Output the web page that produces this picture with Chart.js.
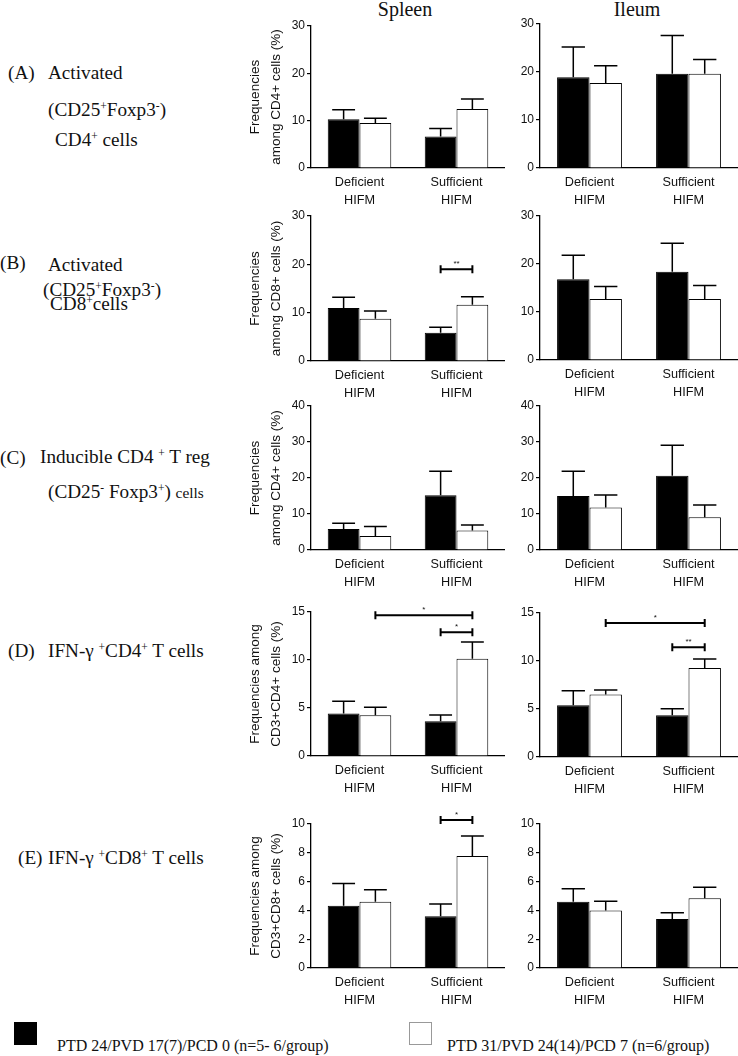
<!DOCTYPE html>
<html>
<head>
<meta charset="utf-8">
<script src="https://cdn.jsdelivr.net/npm/chart.js@4.4.1/dist/chart.umd.min.js"></script>
<style>
    body { margin: 0; background: #fff; width: 738px; height: 1056px; position: relative; overflow: hidden; font-family: 'Liberation Serif', 'Times New Roman', serif; color: #111; }
    .lbl { position: absolute; font-size: 19.2px; white-space: nowrap; line-height: 1; }
    .lbl sup { font-size: 0.6em; position: relative; top: -0.55em; vertical-align: baseline; line-height: 0; }
    .col-title { position: absolute; font-size: 20px; line-height: 1; transform: translateX(-50%); }
    .legend-box { position: absolute; width: 23px; height: 23px; box-sizing: border-box; }
    .legend-text { position: absolute; font-size: 16px; line-height: 1; white-space: nowrap; }
    canvas { position: absolute; }
</style>
</head>
<body>

<div class="col-title" style="left:405px;top:-1px">Spleen</div>
<div class="col-title" style="left:637px;top:-1px">Ileum</div>

<!-- row labels -->
<div class="lbl" style="left:8px;top:63px">(A)</div>
<div class="lbl" style="left:48px;top:63px">Activated</div>
<div class="lbl" style="left:48px;top:100px">(CD25<sup>+</sup>Foxp3<sup>-</sup>)</div>
<div class="lbl" style="left:55px;top:130px">CD4<sup>+</sup> cells</div>

<div class="lbl" style="left:0px;top:253px">(B)</div>
<div class="lbl" style="left:48px;top:255px">Activated</div>
<div class="lbl" style="left:43px;top:280px">(CD25<sup>+</sup>Foxp3<sup>-</sup>)</div>
<div class="lbl" style="left:50px;top:294px">CD8<sup>+</sup>cells</div>

<div class="lbl" style="left:0px;top:448px">(C)</div>
<div class="lbl" style="left:40px;top:447px">Inducible CD4 <sup>+</sup> T reg</div>
<div class="lbl" style="left:48px;top:482px">(CD25<sup>-</sup> Foxp3<sup>+</sup>) <span style="font-size:0.8em">cells</span></div>

<div class="lbl" style="left:8px;top:641px">(D)</div>
<div class="lbl" style="left:48px;top:641px">IFN-γ <sup>+</sup>CD4<sup>+</sup> T cells</div>

<div class="lbl" style="left:18px;top:848px">(E)</div>
<div class="lbl" style="left:48px;top:848px">IFN-γ <sup>+</sup>CD8<sup>+</sup> T cells</div>

<!-- legend -->
<div class="legend-box" style="left:14px;top:1022px;background:#000"></div>
<div class="legend-text" style="left:57px;top:1038px" id="leg0"></div>
<div class="legend-box" style="left:409px;top:1022px;background:#fff;border:1px solid #999"></div>
<div class="legend-text" style="left:447px;top:1038px" id="leg1"></div>

<script>
Chart.defaults.font.family = "'Liberation Sans', Arial, sans-serif";
Chart.defaults.color = '#111';

const categories = [['Deficient', 'HIFM'], ['Sufficient', 'HIFM']];
const seriesNames = ['PTD 24/PVD 17(7)/PCD 0 (n=5- 6/group)', 'PTD 31/PVD 24(14)/PCD 7 (n=6/group)'];

// (A) activated CD4+
const spleenA_ptd24 = [10.3, 6.65];
const spleenA_ptd24_err = [2.0, 1.7];
const spleenA_ptd31 = [9.5, 12.45];
const spleenA_ptd31_err = [1.0, 2.15];
const ileumA_ptd24 = [18.9, 19.65];
const ileumA_ptd24_err = [6.3, 7.95];
const ileumA_ptd31 = [17.7, 19.65];
const ileumA_ptd31_err = [3.6, 2.95];

// (B) activated CD8+
const spleenB_ptd24 = [10.97, 5.86];
const spleenB_ptd24_err = [2.23, 1.11];
const spleenB_ptd31 = [8.76, 11.66];
const spleenB_ptd31_err = [1.58, 1.64];
const ileumB_ptd24 = [16.8, 18.4];
const ileumB_ptd24_err = [5.0, 5.9];
const ileumB_ptd31 = [12.7, 12.7];
const ileumB_ptd31_err = [2.6, 2.8];

// (C) inducible Treg
const spleenC_ptd24 = [5.8, 15.2];
const spleenC_ptd24_err = [1.6, 6.65];
const spleenC_ptd31 = [3.9, 5.4];
const spleenC_ptd31_err = [2.6, 1.55];
const ileumC_ptd24 = [15.0, 20.6];
const ileumC_ptd24_err = [6.9, 8.5];
const ileumC_ptd31 = [11.8, 9.1];
const ileumC_ptd31_err = [3.5, 3.4];

// (D) IFN-g CD4+
const spleenD_ptd24 = [4.42, 3.62];
const spleenD_ptd24_err = [1.29, 0.66];
const spleenD_ptd31 = [4.25, 10.13];
const spleenD_ptd31_err = [0.83, 1.74];
const ileumD_ptd24 = [5.4, 4.36];
const ileumD_ptd24_err = [1.5, 0.66];
const ileumD_ptd31 = [6.52, 9.28];
const ileumD_ptd31_err = [0.46, 0.94];

// (E) IFN-g CD8+
const spleenE_ptd24 = [4.33, 3.59];
const spleenE_ptd24_err = [1.53, 0.85];
const spleenE_ptd31 = [4.6, 7.78];
const spleenE_ptd31_err = [0.84, 1.39];
const ileumE_ptd24 = [4.6, 3.4];
const ileumE_ptd24_err = [0.91, 0.44];
const ileumE_ptd31 = [4.0, 4.84];
const ileumE_ptd31_err = [0.63, 0.76];

const yMax = [30, 30, 40, 15, 10];
const yStep = [10, 10, 10, 5, 2];
const yTitles = [
    ['Frequencies', 'among CD4+ cells (%)'],
    ['Frequencies', 'among CD8+ cells (%)'],
    ['Frequencies', 'among CD4+ cells (%)'],
    ['Frequencies among', 'CD3+CD4+ cells (%)'],
    ['Frequencies among', 'CD3+CD8+ cells (%)']
];

// significance brackets: [dataset, category] -> [dataset, category], height, label
const sigSpleen = [
    [],
    [{ from: [0, 1], to: [1, 1], y: 19.0, label: '**' }],
    [],
    [{ from: [1, 0], to: [1, 1], y: 14.65, label: '*' }, { from: [0, 1], to: [1, 1], y: 12.9, label: '*' }],
    [{ from: [0, 1], to: [1, 1], y: 10.28, label: '*' }]
];
const sigIleum = [
    [],
    [],
    [],
    [{ from: [1, 0], to: [1, 1], y: 13.95, label: '*' }, { from: [0, 1], to: [1, 1], y: 11.44, label: '**' }],
    []
];

// plot area top/bottom for each row (page pixels)
const spleenTop = [26, 216, 406, 612.3, 823.7];
const spleenBottom = [168, 360.5, 550, 756, 967.7];
const ileumTop = [24, 216.3, 406, 612.7, 824];
const ileumBottom = [168, 360.3, 550, 756, 968];

const spleenData = [
    [spleenA_ptd24, spleenA_ptd24_err, spleenA_ptd31, spleenA_ptd31_err],
    [spleenB_ptd24, spleenB_ptd24_err, spleenB_ptd31, spleenB_ptd31_err],
    [spleenC_ptd24, spleenC_ptd24_err, spleenC_ptd31, spleenC_ptd31_err],
    [spleenD_ptd24, spleenD_ptd24_err, spleenD_ptd31, spleenD_ptd31_err],
    [spleenE_ptd24, spleenE_ptd24_err, spleenE_ptd31, spleenE_ptd31_err]
];
const ileumData = [
    [ileumA_ptd24, ileumA_ptd24_err, ileumA_ptd31, ileumA_ptd31_err],
    [ileumB_ptd24, ileumB_ptd24_err, ileumB_ptd31, ileumB_ptd31_err],
    [ileumC_ptd24, ileumC_ptd24_err, ileumC_ptd31, ileumC_ptd31_err],
    [ileumD_ptd24, ileumD_ptd24_err, ileumD_ptd31, ileumD_ptd31_err],
    [ileumE_ptd24, ileumE_ptd24_err, ileumE_ptd31, ileumE_ptd31_err]
];

document.getElementById('leg0').textContent = seriesNames[0];
document.getElementById('leg1').textContent = seriesNames[1];

const errorBars = {
    id: 'errorBars',
    afterDatasetsDraw(chart) {
        const { ctx } = chart;
        const y = chart.scales.y;
        ctx.save();
        ctx.strokeStyle = '#000';
        ctx.lineWidth = 1.5;
        chart.data.datasets.forEach((ds, i) => {
            chart.getDatasetMeta(i).data.forEach((bar, j) => {
                const top = y.getPixelForValue(ds.data[j] + ds.errors[j]);
                const half = bar.width * 0.36;
                ctx.beginPath();
                ctx.moveTo(bar.x, bar.y);
                ctx.lineTo(bar.x, top);
                ctx.moveTo(bar.x - half, top);
                ctx.lineTo(bar.x + half, top);
                ctx.stroke();
            });
        });
        ctx.restore();
    }
};

function sigPlugin(brackets) {
    return {
        id: 'sigBrackets',
        afterDraw(chart) {
            const { ctx } = chart;
            ctx.save();
            ctx.strokeStyle = '#000';
            ctx.fillStyle = '#111';
            ctx.lineWidth = 2;
            brackets.forEach(b => {
                const x1 = chart.getDatasetMeta(b.from[0]).data[b.from[1]].x;
                const x2 = chart.getDatasetMeta(b.to[0]).data[b.to[1]].x;
                const py = chart.scales.y.getPixelForValue(b.y);
                ctx.beginPath();
                ctx.moveTo(x1, py); ctx.lineTo(x2, py);
                ctx.moveTo(x1, py - 4); ctx.lineTo(x1, py + 4);
                ctx.moveTo(x2, py - 4); ctx.lineTo(x2, py + 4);
                ctx.stroke();
                ctx.font = "8px 'Liberation Sans', Arial, sans-serif";
                ctx.textAlign = 'center';
                ctx.textBaseline = 'alphabetic';
                ctx.fillText(b.label, (x1 + x2) / 2, py - 3);
            });
            ctx.restore();
        }
    };
}

const padTop = 20;
const xAxisHeight = 42;

function makePanel(row, opts) {
    const [black, blackErr, white, whiteErr] = opts.data;
    const canvas = document.createElement('canvas');
    const height = padTop + (opts.bottom - opts.top) + xAxisHeight;
    canvas.width = opts.width;
    canvas.height = Math.ceil(height);
    canvas.style.left = opts.left + 'px';
    canvas.style.top = (opts.top - padTop) + 'px';
    canvas.style.width = opts.width + 'px';
    canvas.style.height = Math.ceil(height) + 'px';
    document.body.appendChild(canvas);

    new Chart(canvas, {
        type: 'bar',
        data: {
            labels: categories,
            datasets: [
                { label: seriesNames[0], data: black, errors: blackErr, backgroundColor: '#000', borderColor: '#000', borderWidth: 1 },
                { label: seriesNames[1], data: white, errors: whiteErr, backgroundColor: '#fff', borderColor: '#000', borderWidth: 1 }
            ]
        },
        options: {
            responsive: false,
            animation: false,
            devicePixelRatio: 1,
            categoryPercentage: 0.655,
            barPercentage: 1.0,
            layout: { padding: { top: padTop, right: 0, bottom: 0, left: 0 } },
            plugins: { legend: { display: false }, tooltip: { enabled: false } },
            scales: {
                x: {
                    grid: { display: false, drawTicks: false },
                    border: { display: true, color: '#000', width: 1.3 },
                    ticks: { color: '#111', font: { size: 12.7, lineHeight: 1.42 }, padding: 5, maxRotation: 0, autoSkip: false },
                    afterFit: s => { s.height = xAxisHeight; }
                },
                y: {
                    min: 0,
                    max: yMax[row],
                    ticks: { stepSize: yStep[row], color: '#111', font: { size: 12 }, padding: 2 },
                    grid: { display: true, drawOnChartArea: false, drawTicks: true, tickLength: 4, color: '#000', lineWidth: 1.2 },
                    border: { display: true, color: '#000', width: 1.3 },
                    title: {
                        display: !!opts.title,
                        text: opts.title || '',
                        color: '#111',
                        font: { size: 13.5, lineHeight: 1.55 },
                        padding: { top: 5, bottom: 0 }
                    },
                    afterFit: s => { s.width = opts.yWidth; }
                }
            }
        },
        plugins: [errorBars, sigPlugin(opts.brackets)]
    });
}

for (let r = 0; r < 5; r++) {
    makePanel(r, {
        left: 240, width: 265, yWidth: 71,
        top: spleenTop[r], bottom: spleenBottom[r],
        data: spleenData[r], title: yTitles[r], brackets: sigSpleen[r]
    });
    makePanel(r, {
        left: 500, width: 238, yWidth: 40,
        top: ileumTop[r], bottom: ileumBottom[r],
        data: ileumData[r], title: null, brackets: sigIleum[r]
    });
}
</script>
</body>
</html>
